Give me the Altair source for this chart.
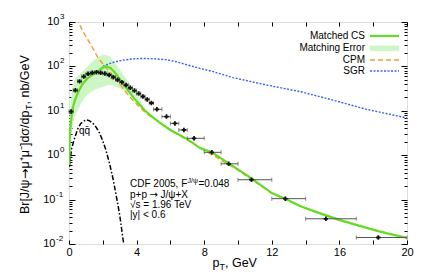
import altair as alt
import pandas as pd

FONT = "Liberation Sans"
ARROW_FONT = "DejaVu Sans"

# ---- CDF 2005 data (bin centre, bin edges, value) ----
data_pt = [0.125, 0.375, 0.625, 0.875, 1.125, 1.375, 1.625, 1.875, 2.125, 2.375,
           2.625, 2.875, 3.125, 3.375, 3.625, 3.875, 4.125, 4.375, 4.625, 4.875,
           5.2, 5.77, 6.27, 6.8, 7.4, 8.45, 9.45, 10.8, 12.8, 15.2, 18.3]
data_lo = [0.0, 0.25, 0.5, 0.75, 1.0, 1.25, 1.5, 1.75, 2.0, 2.25,
           2.5, 2.75, 3.0, 3.25, 3.5, 3.75, 4.0, 4.25, 4.5, 4.75,
           5.0, 5.5, 6.0, 6.5, 7.0, 8.0, 9.0, 10.0, 12.0, 14.0, 17.0]
data_hi = [0.25, 0.5, 0.75, 1.0, 1.25, 1.5, 1.75, 2.0, 2.25, 2.5,
           2.75, 3.0, 3.25, 3.5, 3.75, 4.0, 4.25, 4.5, 4.75, 5.0,
           5.5, 6.0, 6.5, 7.0, 8.0, 9.0, 10.0, 12.0, 14.0, 17.0, 20.0]
data_val = [9.6, 29, 46, 59, 68, 72, 74, 72, 69, 64,
            57, 50, 44, 38, 33, 28.5, 24.5, 21, 18, 15,
            10.8, 7.4, 5.2, 3.7, 2.4, 1.16, 0.64, 0.28, 0.105, 0.037, 0.014]

# ---- Matched CS ----
cs_pt = [0.01, 0.05, 0.1, 0.2, 0.3, 0.45, 0.6, 0.8, 1.1, 1.4, 1.7, 2.0, 2.2, 2.45,
         2.7, 2.9, 3.2, 3.5, 3.8, 4.0, 4.5, 5.0, 5.5, 6.0, 7.0, 7.75, 8.45, 9.5, 10.8,
         12.0, 12.8, 13.7, 15.0, 16.0, 17.0, 18.3, 19.2, 20.0]
cs_val = [0.6, 2.5, 5, 10.5, 15, 22, 29, 40, 54, 65, 77, 94, 100, 92,
          74, 59, 40, 29, 20, 16.5, 10, 6.9, 5.0, 3.7, 2.3, 1.45, 1.16, 0.64, 0.30,
          0.14, 0.105, 0.071, 0.047, 0.035, 0.027, 0.0195, 0.016, 0.0138]

# ---- Matching error band ----
band_pt = [0.03, 0.1, 0.2, 0.3, 0.6, 0.9, 1.2, 1.5, 1.8, 2.0, 2.2, 2.4, 2.6, 2.9,
           3.2, 3.5, 3.8, 4.1, 4.4]
band_lo = [0.8, 2.5, 4.5, 6.5, 12, 19.6, 25, 29.5, 33, 35, 37, 38, 37, 33,
           29, 25.5, 19.5, 14.5, 11]
band_hi = [3, 15, 32, 48, 66, 83, 110, 141, 170, 182, 180, 168, 140, 97,
           66, 46, 32, 22, 12]

# ---- CPM ----
cpm_pt = [0.3, 0.45, 0.55, 0.8, 1.0, 1.2, 1.4, 1.7, 2.0, 2.3, 2.66, 3.0, 3.25, 3.55,
          3.85, 4.2, 4.45, 4.8, 5.2, 6.0, 7.0, 8.0, 10.0, 12.0, 14.0, 16.0, 18.0, 20.0]
cpm_val = [2800, 1500, 1000, 640, 470, 355, 260, 160, 115, 83, 59, 40, 30, 22,
           16, 12, 9.6, 7.6, 6.0, 3.6, 2.2, 1.3, 0.46, 0.138, 0.063, 0.034, 0.021, 0.0136]

# ---- SGR ----
sgr_pt = [2.0, 2.4, 2.8, 3.3, 3.8, 4.4, 5.0, 5.8, 6.4, 7.0, 7.75, 8.5, 9.7, 11.7,
          13.7, 15.6, 17.6, 20.0]
sgr_val = [100, 116, 129, 140, 148, 151, 149, 141, 126, 108, 90, 77, 56, 38,
           27, 17.5, 10.8, 6.9]

# ---- q qbar ----
qq_pt = [0.02, 0.15, 0.3, 0.5, 0.7, 1.0, 1.2, 1.4, 1.6, 1.8, 2.0, 2.2, 2.4, 2.6,
         2.8, 3.0, 3.2, 3.35]
qq_val = [0.55, 1.4, 2.2, 3.8, 5.2, 6.3, 6.0, 5.3, 4.3, 3.2, 2.1, 1.25, 0.65, 0.3,
          0.12, 0.045, 0.0125, 0.006]

legend_labels = ["Matched CS", "Matching Error", "CPM", "SGR"]
x_labels = [0, 4, 8, 12, 16, 20]
x_ticks = [0, 2, 4, 6, 8, 10, 12, 14, 16, 18, 20]
y_decades = [0.01, 0.1, 1, 10, 100, 1000]
y_exponents = ["-2", "-1", "0", "1", "2", "3"]
y_minor = [m * d for d in [0.01, 0.1, 1, 10, 100] for m in range(2, 10)]

GREEN = "#62dd22"
BAND = "#cdf6c4"
ORANGE = "#f39a2c"
BLUE = "#3a62f0"

xs = alt.Scale(domain=[0, 20], nice=False, zero=False)
ys = alt.Scale(type="log", domain=[0.01, 1000], nice=False)

df_data = pd.DataFrame({"pt": data_pt, "lo": data_lo, "hi": data_hi, "val": data_val})
df_cs = pd.DataFrame({"pt": cs_pt, "val": cs_val})
df_band = pd.DataFrame({"pt": band_pt, "lo": band_lo, "hi": band_hi})
df_cpm = pd.DataFrame({"pt": cpm_pt, "val": cpm_val})
df_sgr = pd.DataFrame({"pt": sgr_pt, "val": sgr_val})
df_qq = pd.DataFrame({"pt": qq_pt, "val": qq_val})
df_ylab = pd.DataFrame({"v": y_decades, "e": y_exponents})
one = pd.DataFrame({"k": [0]})

X = lambda f: alt.X(f, type="quantitative", scale=xs, axis=None)
Y = lambda f: alt.Y(f, type="quantitative", scale=ys, axis=None)

band = alt.Chart(df_band).mark_area(color=BAND, clip=True).encode(
    x=X("pt"), y=Y("lo"), y2="hi")
qq = alt.Chart(df_qq).mark_line(color="black", strokeWidth=1.5,
                                strokeDash=[5, 2, 1.5, 2], clip=True).encode(x=X("pt"), y=Y("val"))
sgr = alt.Chart(df_sgr).mark_line(color=BLUE, strokeWidth=1.4,
                                  strokeDash=[2, 1.5], clip=True).encode(x=X("pt"), y=Y("val"))
cpm = alt.Chart(df_cpm).mark_line(color=ORANGE, strokeWidth=1.4,
                                  strokeDash=[5, 3], clip=True).encode(x=X("pt"), y=Y("val"))
cs = alt.Chart(df_cs).mark_line(color=GREEN, strokeWidth=2.2, clip=True).encode(
    x=X("pt"), y=Y("val"))
ebar = alt.Chart(df_data).mark_rule(color="#555555", strokeWidth=1).encode(
    x=X("lo"), x2="hi", y=Y("val"))
ecap = alt.Chart(df_data).transform_fold(["lo", "hi"], as_=["side", "edge"]).mark_tick(
    color="#555555", orient="vertical", size=4, thickness=1).encode(x=X("edge"), y=Y("val"))
pts = alt.Chart(df_data).mark_point(shape="cross", filled=True, size=20, color="#111111",
                                    opacity=1).encode(x=X("pt"), y=Y("val"))


def ax(**kw):
    base = dict(grid=False, domain=False, title=None, tickColor="black", tickWidth=1)
    base.update(kw)
    return alt.Axis(**base)


def axis_layer(xaxis, yaxis):
    return alt.Chart(df_data).mark_point(opacity=0).encode(
        x=alt.X("pt:Q", scale=xs, axis=xaxis), y=alt.Y("val:Q", scale=ys, axis=yaxis))


ax1 = axis_layer(
    ax(orient="bottom", values=x_labels, format="d", ticks=False, labelFontSize=11,
       labelFont=FONT, labelColor="black", labelPadding=2, labelFlush=False, labelOverlap=False),
    ax(orient="left", values=y_decades, labels=False, tickSize=6, offset=-6))
ax2 = axis_layer(
    ax(orient="bottom", values=x_ticks, labels=False, tickSize=4, offset=-4),
    ax(orient="left", values=y_minor, labels=False, tickSize=3, offset=-3))
ax3 = axis_layer(
    ax(orient="top", values=x_ticks, labels=False, tickSize=4, offset=-4),
    ax(orient="right", values=y_decades, labels=False, tickSize=6, offset=-6))
ax4 = axis_layer(None, ax(orient="right", values=y_minor, labels=False, tickSize=3, offset=-3))

# y tick labels 10^n
ylab_pos_10 = alt.Chart(df_ylab).transform_filter("datum.v >= 1").mark_text(
    text="10", align="right", baseline="middle", fontSize=11, font=FONT, color="black").encode(
    x=alt.value(-9.5), y=Y("v"))
ylab_pos_e = alt.Chart(df_ylab).transform_filter("datum.v >= 1").mark_text(
    align="left", baseline="middle", fontSize=8, font=FONT, color="black", dy=-5).encode(
    x=alt.value(-9), y=Y("v"), text="e:N")
ylab_neg_10 = alt.Chart(df_ylab).transform_filter("datum.v < 1").mark_text(
    text="10", align="right", baseline="middle", fontSize=11, font=FONT, color="black").encode(
    x=alt.value(-13.5), y=Y("v"))
ylab_neg_e = alt.Chart(df_ylab).transform_filter("datum.v < 1").mark_text(
    align="left", baseline="middle", fontSize=8, font=FONT, color="black", dy=-5).encode(
    x=alt.value(-13), y=Y("v"), text="e:N")


def txt(s, x, y, size=10, align="left", baseline="alphabetic", angle=None, dy=None, font=FONT):
    kw = dict(text=s, align=align, baseline=baseline, fontSize=size, font=font, color="black")
    if angle is not None:
        kw["angle"] = angle
    if dy is not None:
        kw["dy"] = dy
    return alt.Chart(one).mark_text(**kw).encode(x=alt.value(x), y=alt.value(y))


texts = [
    # x title
    txt("p", 150.5, 244.5, size=12.5, align="right"),
    txt("T", 150.5, 247.5, size=9),
    txt(", GeV", 156, 244.5, size=12.5),
    # y title (rotated)
    txt("Br[J/\u03c8", -40.5, 157.5, size=12.5, align="right", angle=270),
    txt("\u2192", -40.5, 157, size=12.5, align="left", angle=270, font=ARROW_FONT),
    txt("\u03bc\u207a\u03bc\u207b]d\u03c3/dp", -40.5, 146.5, size=12.5, align="left", angle=270),
    txt("T", -40.5, 88, size=9, align="left", angle=270, dy=3),
    txt(", nb/GeV", -40.5, 82.5, size=12.5, align="left", angle=270),
    # info block
    txt("CDF 2005, F", 61, 165),
    txt("J/\u03c8", 118.5, 161, size=7),
    txt("=0.048", 129.5, 165),
    txt("p+p", 61, 175.5),
    txt("\u2192", 80.5, 175.5, font=ARROW_FONT),
    txt("J/\u03c8+X", 91.5, 175.5),
    txt("\u221as = 1.96 TeV", 61, 186),
    txt("|y| < 0.6", 61, 196),
    # qqbar label
    txt("qq\u0304", 15.5, 111.5, size=10, align="center"),
]

# legend
leg_y = [14, 26.3, 38, 49]
legend = [txt(legend_labels[i], 296, leg_y[i], size=10, align="right", baseline="middle")
          for i in range(4)]
legend += [
    alt.Chart(one).mark_rule(color=GREEN, strokeWidth=2.2).encode(
        x=alt.value(301), x2=alt.value(330), y=alt.value(leg_y[0])),
    alt.Chart(one).mark_rect(color=BAND).encode(
        x=alt.value(301), x2=alt.value(330), y=alt.value(leg_y[1] - 2.8), y2=alt.value(leg_y[1] + 2.8)),
    alt.Chart(one).mark_rule(color=ORANGE, strokeWidth=1.4, strokeDash=[5, 3]).encode(
        x=alt.value(301), x2=alt.value(330), y=alt.value(leg_y[2])),
    alt.Chart(one).mark_rule(color=BLUE, strokeWidth=1.4, strokeDash=[2, 1.5]).encode(
        x=alt.value(301), x2=alt.value(330), y=alt.value(leg_y[3])),
]

chart = alt.layer(
    band, qq, sgr, cpm, cs, ebar, ecap, pts,
    ax1, ax2, ax3, ax4,
    ylab_pos_10, ylab_pos_e, ylab_neg_10, ylab_neg_e,
    *texts, *legend,
).resolve_axis(x="independent", y="independent").properties(
    width=338, height=222,
    autosize=alt.AutoSizeParams(type="none"),
    padding={"left": 61, "top": 14, "right": 17, "bottom": 26},
).configure_view(stroke="black", strokeWidth=1).configure(background="white")

chart.save("out.html", embed_options={"renderer": "svg", "actions": False})
